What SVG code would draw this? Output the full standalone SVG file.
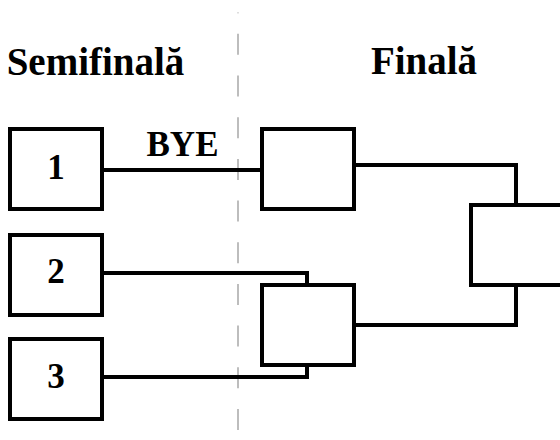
<svg xmlns="http://www.w3.org/2000/svg" width="560" height="440" viewBox="0 0 560 440">
  <style>
    .box { fill: #ffffff; stroke: #000000; stroke-width: 4; }
    .conn { fill: none; stroke: #000000; stroke-width: 4; }
    .title { font-family: "Liberation Serif", "Times New Roman", serif; font-weight: bold; font-size: 39px; fill: #000000; text-anchor: middle; }
    .num { font-family: "Liberation Serif", "Times New Roman", serif; font-weight: bold; font-size: 35px; fill: #000000; text-anchor: middle; }
    .divider { stroke: #bdbdbd; stroke-width: 2; stroke-dasharray: 21 20.67; fill: none; }
  </style>
  <rect x="0" y="0" width="560" height="440" fill="#ffffff"/>

  <g id="headers">
    <text class="title" x="95.5" y="75">Semifinală</text>
    <text class="title" x="424" y="74">Finală</text>
  </g>

  <line id="divider" class="divider" x1="238" y1="12.6" x2="238" y2="440" stroke-dashoffset="20.4"/>

  <g id="connectors">
    <line class="conn" x1="104" y1="170" x2="262" y2="170"/>
    <polyline class="conn" points="104,273 307,273 307,285"/>
    <polyline class="conn" points="104,377 307,377 307,365"/>
    <polyline class="conn" points="354,165 516,165 516,205"/>
    <polyline class="conn" points="354,325 516,325 516,285"/>
    <text class="num" x="182.5" y="156">BYE</text>
  </g>

  <g id="seed1">
    <rect class="box" x="10" y="129" width="92" height="80"/>
    <text class="num" x="56" y="179">1</text>
  </g>
  <g id="seed2">
    <rect class="box" x="10" y="235" width="92" height="80"/>
    <text class="num" x="56" y="283">2</text>
  </g>
  <g id="seed3">
    <rect class="box" x="10" y="339" width="92" height="80"/>
    <text class="num" x="56" y="388">3</text>
  </g>
  <g id="final-slot-1">
    <rect class="box" x="262" y="129" width="92" height="80"/>
  </g>
  <g id="final-slot-2">
    <rect class="box" x="262" y="285" width="92" height="80"/>
  </g>
  <g id="winner">
    <rect class="box" x="471" y="205" width="92" height="80"/>
  </g>
</svg>
